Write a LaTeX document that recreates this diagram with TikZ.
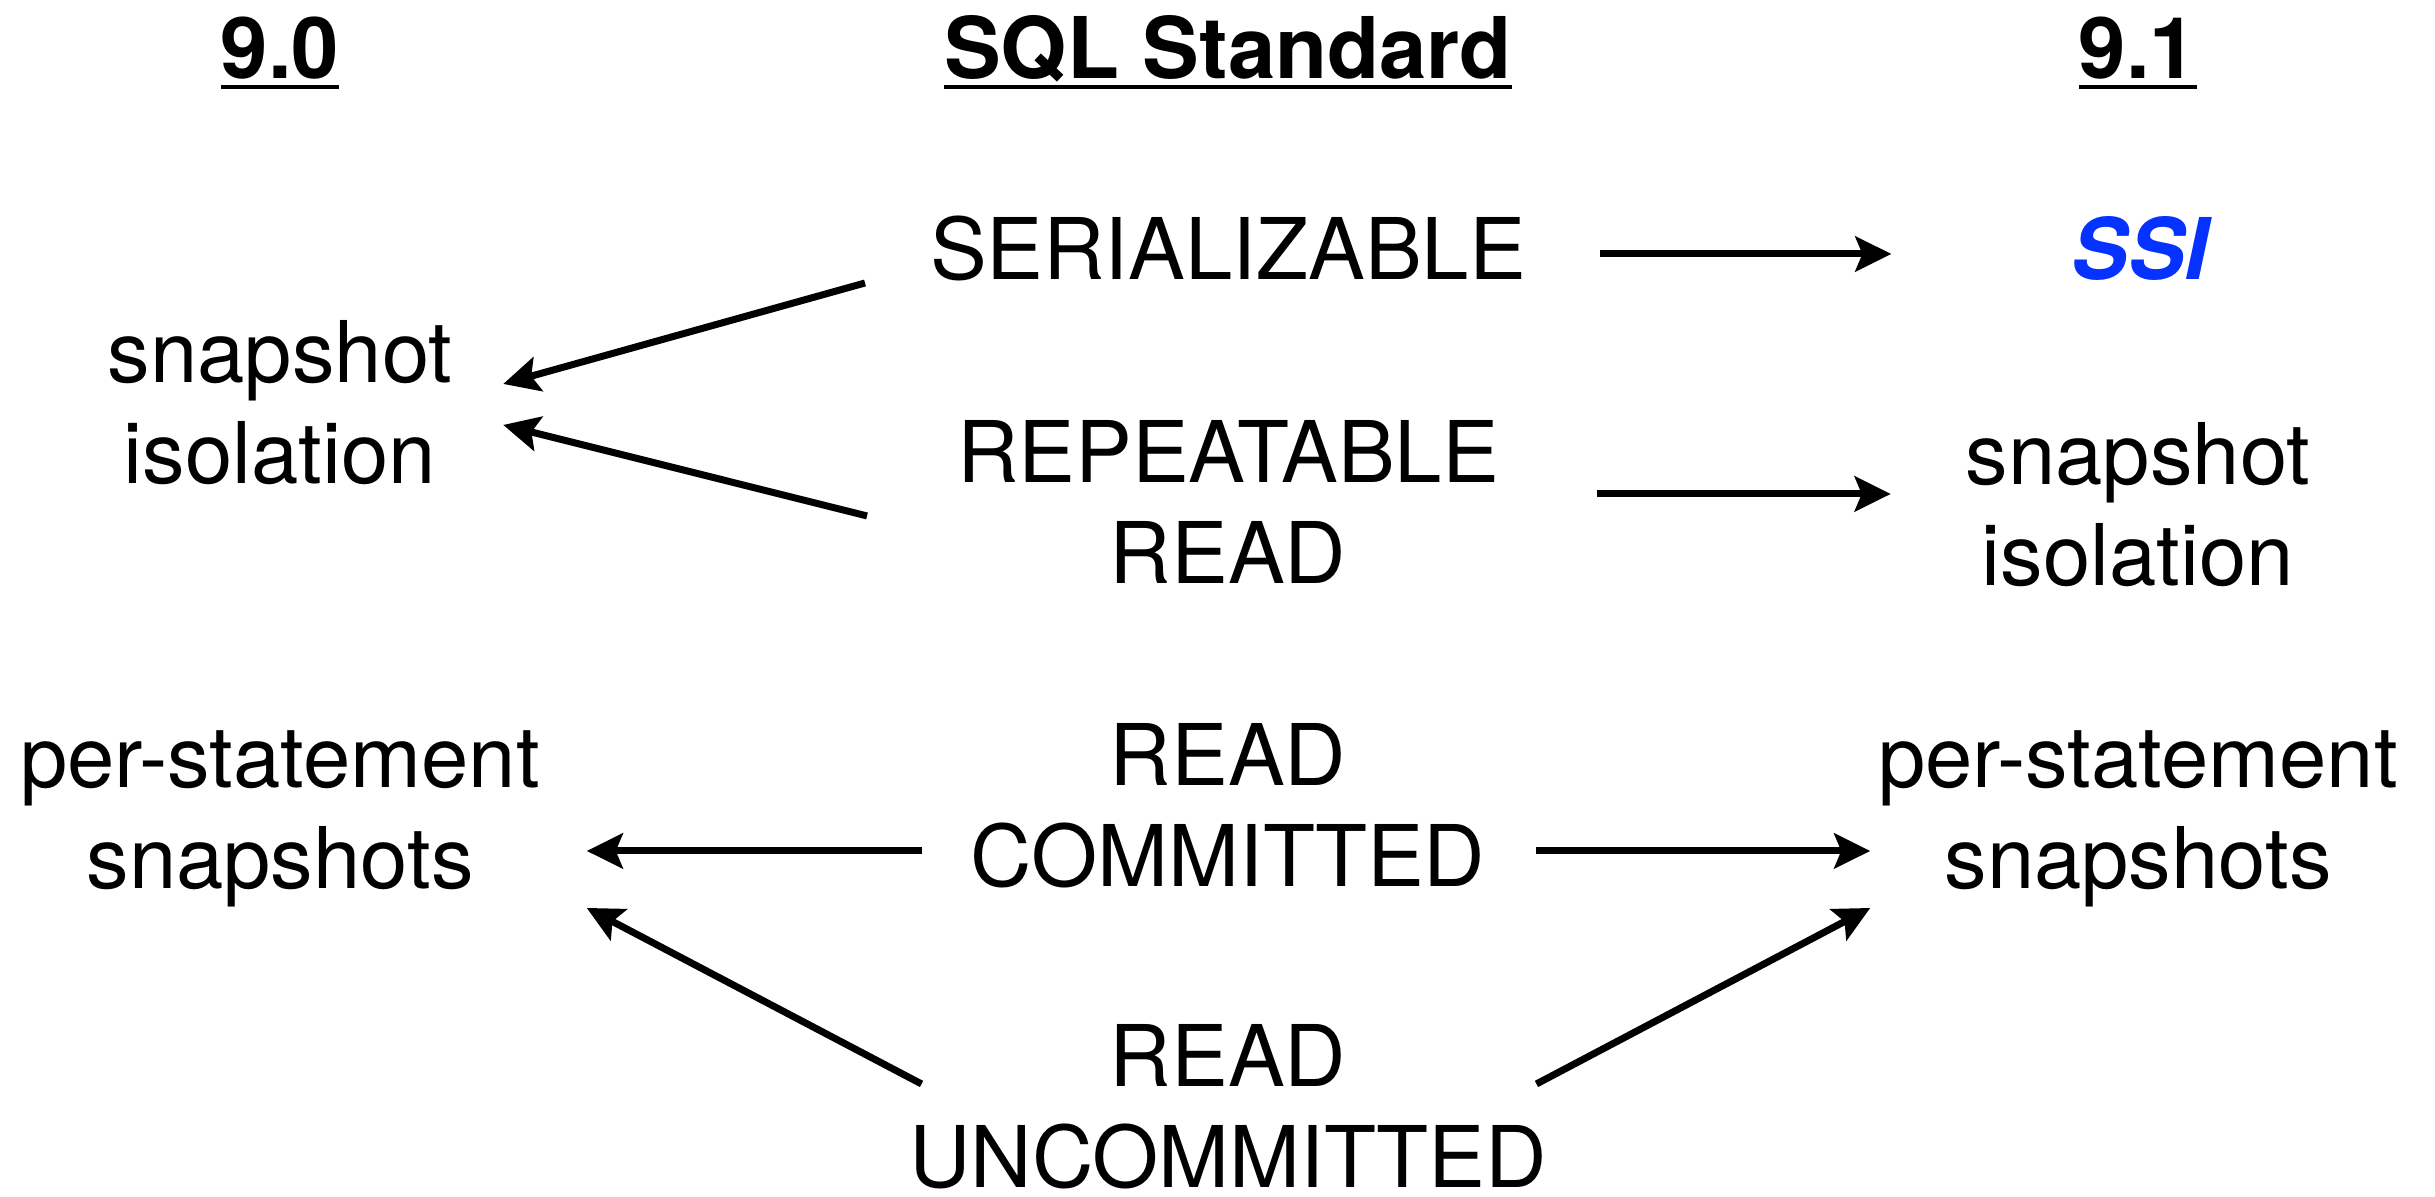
\documentclass[tikz,border=0pt]{standalone}
\usepackage{fontspec}
\setmainfont{TeX Gyre Heros}
\usetikzlibrary{arrows.meta}
\definecolor{ssiblue}{RGB}{5,50,255}
\begin{document}
\begin{tikzpicture}[x=0.01cm, y=-0.01cm,
  every node/.style={inner sep=0pt, outer sep=0pt, anchor=base,
    font=\fontsize{24.2}{28.45}\selectfont},
  one/.style={text height=0.62cm, text depth=0cm},
  two/.style={align=center, text height=1.62cm, text depth=0cm},
  head/.style={one, font=\fontsize{24.2}{28.45}\selectfont\bfseries},
  conn/.style={line width=0.07cm, -{Stealth[length=0.36cm,width=0.35cm,inset=0.07cm]}},
  headrule/.style={line width=0.04cm}]

\fill[white] (0,0) rectangle (2435,1197);
\useasboundingbox (0,0) rectangle (2435,1197);

% column headings
\node[head] (h90)  at (280,79)  {9.0};
\node[head] (hsql) at (1228,79) {SQL Standard};
\node[head] (h91)  at (2138,79) {9.1};
\foreach \h in {h90,hsql,h91}
  \draw[headrule] ([shift={(0,8)}]\h.base west) -- ([shift={(0,8)}]\h.base east);

% SQL standard levels (two-line nodes sit on the baseline of their last line)
\node[one] (ser) at (1228,280)  {SERIALIZABLE};
\node[two] (rr)  at (1228,583)  {REPEATABLE\\READ};
\node[two] (rc)  at (1228,886)  {READ\\COMMITTED};
\node[two] (ru)  at (1228,1187) {READ\\UNCOMMITTED};

% 9.0 behaviour
\node[two] (snapL) at (280,483) {snapshot\\isolation};
\node[two] (pslL)  at (280,888) {per-statement\\snapshots};

% 9.1 behaviour
\node[one, text=ssiblue, font=\fontsize{24.2}{28.45}\selectfont\bfseries\itshape] (ssi) at (2140,280) {SSI};
\node[two] (snapR) at (2138,585) {snapshot\\isolation};
\node[two] (pslR)  at (2138,888) {per-statement\\snapshots};

% mappings to 9.0
\draw[conn] ([shift={(-65,34)}]ser.west) -- ([shift={(51,-18)}]snapL.east);
\draw[conn] ([shift={(-90,14)}]rr.west)  -- ([shift={(51,23)}]snapL.east);
\draw[conn] ([shift={(-49,46)}]rc.west)  -- ([shift={(47,44)}]pslL.east);
\draw[conn] ([shift={(12,-22)}]ru.west)  -- ([shift={(47,101)}]pslL.east);

% mappings to 9.1
\draw[conn] ([shift={(74,5)}]ser.east)   -- ([shift={(-180,5)}]ssi.west);
\draw[conn] ([shift={(98,-8)}]rr.east)   -- ([shift={(-75,-10)}]snapR.west);
\draw[conn] ([shift={(51,46)}]rc.east)   -- ([shift={(-8,44)}]pslR.west);
\draw[conn] ([shift={(-10,-22)}]ru.east) -- ([shift={(-8,101)}]pslR.west);
\end{tikzpicture}
\end{document}
